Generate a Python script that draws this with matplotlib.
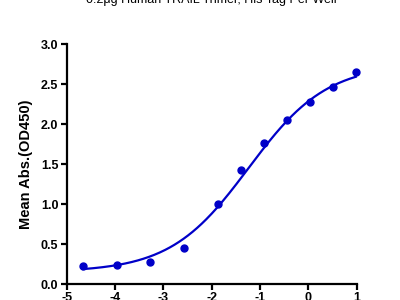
import numpy as np
import matplotlib
matplotlib.use("Agg")
import matplotlib.pyplot as plt

plt.rcParams['font.family'] = ['Liberation Sans', 'DejaVu Sans']
plt.rcParams['axes.unicode_minus'] = False

title = "0.2μg Human TRAIL Trimer, His Tag Per Well"
ylabel = "Mean Abs.(OD450)"
log_conc = [-4.66, -3.97, -3.28, -2.57, -1.87, -1.40, -0.92, -0.45, 0.03, 0.51, 0.98]
od450 = [0.225, 0.24, 0.28, 0.45, 1.00, 1.43, 1.76, 2.05, 2.28, 2.47, 2.65]
# 4PL fit parameters
bottom, top, log_ec50, hill = 0.15, 2.75, -1.24, 0.535
xticks = [-5, -4, -3, -2, -1, 0, 1]
yticks = [0.0, 0.5, 1.0, 1.5, 2.0, 2.5, 3.0]

color = "#0000C8"

fig = plt.figure(figsize=(4, 3), dpi=100)
ax = fig.add_axes([0.167, 0.053, 0.725, 0.80])

xs = np.linspace(min(log_conc), max(log_conc), 300)
ys = bottom + (top - bottom) / (1 + 10 ** ((log_ec50 - xs) * hill))
ax.plot(xs, ys, color=color, lw=1.6, clip_on=False)
ax.plot(log_conc, od450, 'o', color=color, ms=5, clip_on=False)

ax.set_xlim(-5, 1)
ax.set_ylim(0, 3)
ax.set_xticks(xticks)
ax.set_xticklabels([str(v) for v in xticks])
ax.set_yticks(yticks)
ax.set_yticklabels([f"{v:.1f}" for v in yticks])
for s in ['top', 'right']:
    ax.spines[s].set_visible(False)
for s in ['left', 'bottom']:
    ax.spines[s].set_linewidth(1.6)
ax.tick_params(direction='out', length=4, width=1.6, labelsize=9, pad=2)
for lab in ax.get_xticklabels() + ax.get_yticklabels():
    lab.set_fontweight('bold')
ax.set_ylabel(ylabel, fontsize=10.5, fontweight='bold', labelpad=6)
fig.text(0.529, 0.99, title, ha='center', va='baseline', fontsize=9)

fig.savefig("out.png", dpi=100)
